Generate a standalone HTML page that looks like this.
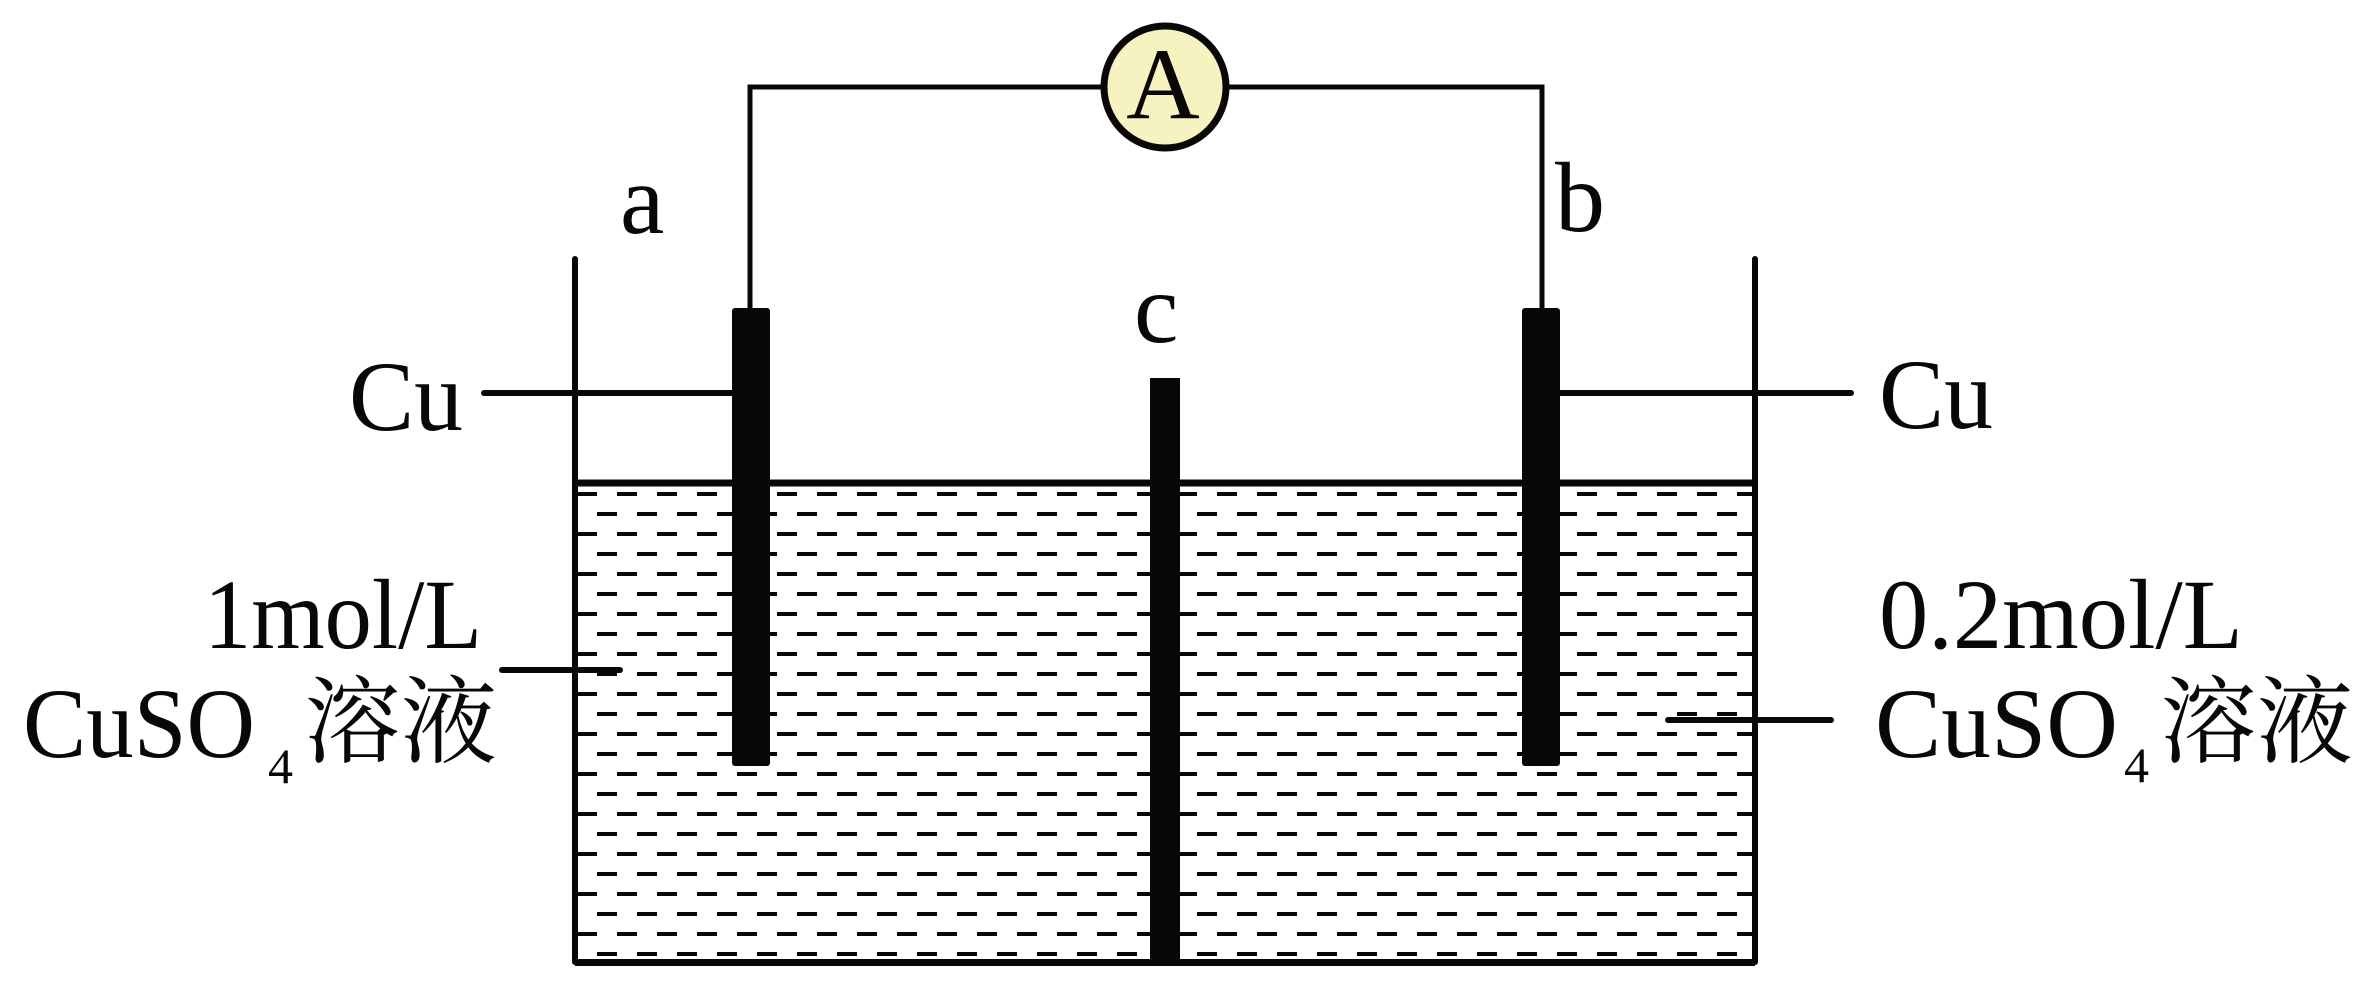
<!DOCTYPE html>
<html><head><meta charset="utf-8"><style>
html,body{margin:0;padding:0;background:#fff;}
svg{display:block;}
text{font-family:"Liberation Serif","Noto Serif CJK SC",serif;fill:#0a0806;}
.cjk{font-family:"Liberation Serif","Noto Serif CJK SC","Noto Sans CJK SC",serif;}
</style></head><body>
<svg width="2380" height="982" viewBox="0 0 2380 982" xmlns="http://www.w3.org/2000/svg">
<defs>
<pattern id="dashes" x="577" y="492" width="40" height="40" patternUnits="userSpaceOnUse">
<rect x="0" y="0" width="20" height="4" fill="#0a0806"/>
<rect x="20" y="20" width="20" height="4" fill="#0a0806"/>
</pattern>
<clipPath id="tank"><rect x="578" y="487" width="1174" height="472"/></clipPath>
</defs>
<rect x="578" y="487" width="1174" height="472" fill="url(#dashes)" clip-path="url(#tank)"/>
<g stroke="#0a0806" fill="none" stroke-linecap="round">
<polyline points="750,308 750,87 1542,87 1542,308" stroke-width="5"/>
<line x1="575" y1="259" x2="575" y2="962" stroke-width="6"/>
<line x1="1755" y1="259" x2="1755" y2="962" stroke-width="6"/>
<line x1="575" y1="962.5" x2="1755" y2="962.5" stroke-width="7" stroke-linecap="butt"/>
<line x1="575" y1="483" x2="1755" y2="483" stroke-width="7" stroke-linecap="butt"/>
<line x1="484" y1="393" x2="735" y2="393" stroke-width="6"/>
<line x1="1558" y1="393" x2="1851" y2="393" stroke-width="6"/>
<line x1="502" y1="670" x2="620" y2="670" stroke-width="6"/>
<line x1="1668" y1="720" x2="1831" y2="720" stroke-width="6"/>
</g>
<rect x="732" y="308" width="38" height="458" rx="3" fill="#0a0806"/>
<rect x="1522" y="308" width="38" height="458" rx="3" fill="#0a0806"/>
<rect x="1150" y="378" width="30" height="586" fill="#0a0806"/>
<circle cx="1165" cy="87" r="61" fill="#f7f3c0" stroke="#0a0806" stroke-width="7"/>
<text x="1163" y="118" font-size="102" text-anchor="middle">A</text>
<text x="620" y="233" font-size="100">a</text>
<text x="1555" y="231" font-size="100">b</text>
<text x="1134" y="342" font-size="100">c</text>
<text x="349" y="430" font-size="100" textLength="114" lengthAdjust="spacingAndGlyphs">Cu</text>
<text x="1879" y="428" font-size="100" textLength="114" lengthAdjust="spacingAndGlyphs">Cu</text>
<text x="204" y="648" font-size="100" textLength="278" lengthAdjust="spacingAndGlyphs">1mol/L</text>
<text x="1879" y="648" font-size="100" textLength="364" lengthAdjust="spacingAndGlyphs">0.2mol/L</text>
<text x="23" y="757" font-size="100" textLength="232" lengthAdjust="spacingAndGlyphs">CuSO</text>
<text x="268" y="783" font-size="50">4</text>
<text class="cjk" x="304" y="755" font-size="95" textLength="193" lengthAdjust="spacingAndGlyphs">溶液</text>
<text x="1875" y="757" font-size="100" textLength="243" lengthAdjust="spacingAndGlyphs">CuSO</text>
<text x="2124" y="782" font-size="50">4</text>
<text class="cjk" x="2160" y="755" font-size="95" textLength="193" lengthAdjust="spacingAndGlyphs">溶液</text>
</svg>
</body></html>
